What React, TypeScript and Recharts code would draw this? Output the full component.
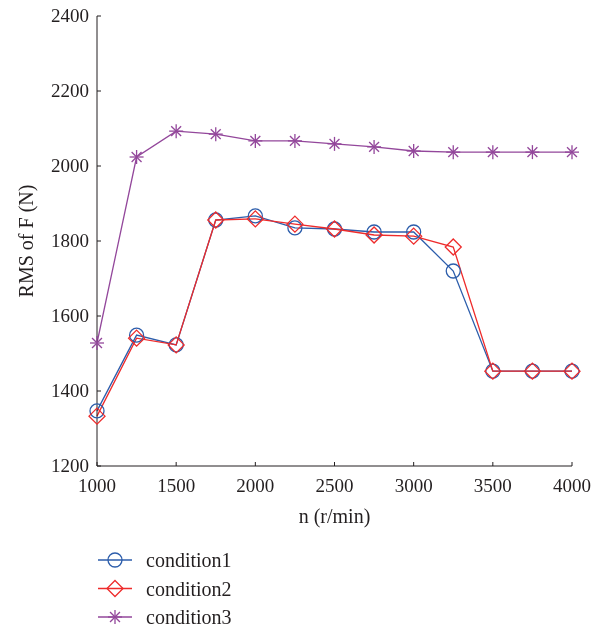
import { LineChart, Line, XAxis, YAxis } from "recharts"

const speeds = [1000, 1250, 1500, 1750, 2000, 2250, 2500, 2750, 3000, 3250, 3500, 3750, 4000]
const condition1 = [1347, 1549, 1523, 1856, 1867, 1835, 1832, 1824, 1824, 1720, 1453, 1453, 1453]
const condition2 = [1333, 1541, 1523, 1856, 1859, 1845, 1832, 1816, 1813, 1784, 1453, 1453, 1453]
const condition3 = [1528, 2024, 2093, 2085, 2067, 2067, 2059, 2051, 2040, 2037, 2037, 2037, 2037]
const xTicks = [1000, 1500, 2000, 2500, 3000, 3500, 4000]
const yTicks = [1200, 1400, 1600, 1800, 2000, 2200, 2400]

const data = speeds.map((n, i) => ({
  n,
  condition1: condition1[i],
  condition2: condition2[i],
  condition3: condition3[i],
}))

// keep the page free of scrollbars
if (typeof document !== "undefined") {
  document.documentElement.style.overflow = "hidden"
  document.body.style.overflow = "hidden"
}

const FONT = "Liberation Serif"
const INK = "#231f20"
const tickStyle = { fontFamily: FONT, fontSize: 19, fill: INK }
const textStyle = { fontFamily: FONT, fontSize: 20, fill: INK }

type Marker = "circle" | "diamond" | "star"

const series: { key: string; color: string; marker: Marker }[] = [
  { key: "condition1", color: "#2c5dab", marker: "circle" },
  { key: "condition2", color: "#ee2b2b", marker: "diamond" },
  { key: "condition3", color: "#93479b", marker: "star" },
]

function MarkerShape({ cx, cy, type, color }: { cx: number; cy: number; type: Marker; color: string }) {
  if (type === "circle") {
    return <circle cx={cx} cy={cy} r={7} fill="none" stroke={color} strokeWidth={1.3} />
  }
  if (type === "diamond") {
    const s = 8
    return (
      <polygon
        points={`${cx},${cy - s} ${cx + s},${cy} ${cx},${cy + s} ${cx - s},${cy}`}
        fill="none"
        stroke={color}
        strokeWidth={1.3}
      />
    )
  }
  const r = 7
  const d = r * Math.SQRT1_2
  return (
    <g stroke={color} strokeWidth={1.3}>
      <line x1={cx - r} y1={cy} x2={cx + r} y2={cy} />
      <line x1={cx} y1={cy - r} x2={cx} y2={cy + r} />
      <line x1={cx - d} y1={cy - d} x2={cx + d} y2={cy + d} />
      <line x1={cx - d} y1={cy + d} x2={cx + d} y2={cy - d} />
    </g>
  )
}

const XTick = (props: any) => {
  const { x, y, payload } = props
  return (
    <g>
      <line x1={x} y1={y} x2={x} y2={y - 4} stroke={INK} />
      <text x={x} y={y + 26} textAnchor="middle" style={tickStyle}>
        {payload.value}
      </text>
    </g>
  )
}

const YTick = (props: any) => {
  const { x, y, payload } = props
  return (
    <g>
      <line x1={x} y1={y} x2={x + 4} y2={y} stroke={INK} />
      <text x={x - 8} y={y + 6} textAnchor="end" style={tickStyle}>
        {payload.value}
      </text>
    </g>
  )
}

const YLabel = (props: any) => {
  const { viewBox } = props
  const cy = viewBox.y + viewBox.height / 2
  return (
    <text x={33} y={cy} transform={`rotate(-90, 33, ${cy})`} textAnchor="middle" style={textStyle}>
      RMS of F (N)
    </text>
  )
}

const XLabel = (props: any) => {
  const { viewBox } = props
  const cx = viewBox.x + viewBox.width / 2
  return (
    <text x={cx} y={viewBox.y + 57} textAnchor="middle" style={textStyle}>
      n (r/min)
    </text>
  )
}

export default function App() {
  return (
    <div style={{ position: "fixed", left: 0, top: 0, width: 592, height: 631, overflow: "hidden" }}>
      <LineChart
        width={592}
        height={538}
        data={data}
        margin={{ top: 16, right: 20, left: 0, bottom: 0 }}
      >
        <XAxis
          dataKey="n"
          type="number"
          domain={[1000, 4000]}
          ticks={xTicks}
          height={72}
          tickSize={0}
          tickMargin={0}
          tickLine={false}
          tick={<XTick />}
          stroke={INK}
          label={<XLabel />}
        />
        <YAxis
          type="number"
          domain={[1200, 2400]}
          ticks={yTicks}
          width={97}
          tickSize={0}
          tickMargin={0}
          tickLine={false}
          tick={<YTick />}
          stroke={INK}
          label={<YLabel />}
        />
        {series.map((s) => (
          <Line
            key={s.key}
            dataKey={s.key}
            stroke={s.color}
            strokeWidth={1.3}
            isAnimationActive={false}
            dot={(p: any) => <MarkerShape key={`${s.key}-${p.index}`} cx={p.cx} cy={p.cy} type={s.marker} color={s.color} />}
            activeDot={false}
          />
        ))}
      </LineChart>
      <svg width={592} height={93} style={{ display: "block" }}>
        {series.map((s, i) => {
          const cy = 22 + i * 28.5
          return (
            <g key={s.key}>
              <line x1={98} y1={cy} x2={132} y2={cy} stroke={s.color} strokeWidth={1.3} />
              <MarkerShape cx={115} cy={cy} type={s.marker} color={s.color} />
              <text x={146} y={cy + 7} style={textStyle}>
                {s.key}
              </text>
            </g>
          )
        })}
      </svg>
    </div>
  )
}
